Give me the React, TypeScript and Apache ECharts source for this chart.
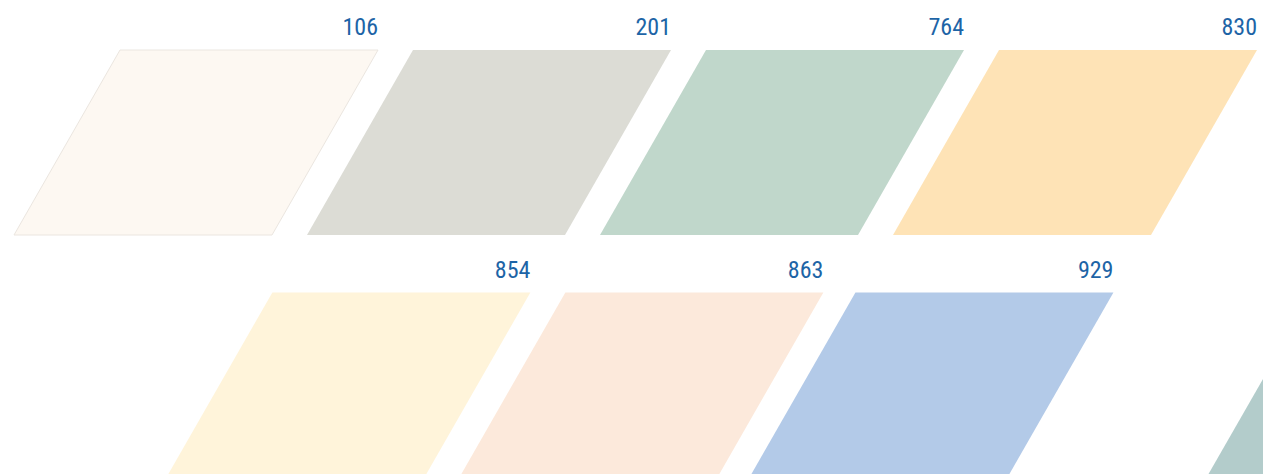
import React, { useEffect, useRef } from "react";
import * as echarts from "echarts";

// Swatch codes (labels) and their colours
const codes = ["106", "201", "764", "830", "854", "863", "929", ""];
const colors = ["#fdf8f2", "#dcdcd5", "#c0d7cb", "#fee3b6", "#fff4da", "#fce9db", "#b3cae8", "#b3cccb"];
// Layout slots: column (in swatch pitches) and row
const cols = [0, 1, 2, 3, 0.52, 1.52, 2.51, 4.07];
const rows = [0, 0, 0, 0, 1, 1, 1, 1];

export default function App() {
  const ref = useRef<HTMLDivElement>(null);
  useEffect(() => {
    if (!ref.current) return;
    const chart = echarts.init(ref.current, null, { renderer: "svg" });
    const W = 258;
    const H = 185;
    const SKEW = 106;
    const PITCH = 293;
    const X0 = 120;
    const rowTop = [50, 292.5];
    const data = codes.map((c, i) => [X0 + PITCH * cols[i], rowTop[rows[i]], i]);
    chart.setOption({
      animation: false,
      grid: { left: 0, right: 0, top: 0, bottom: 0, containLabel: false },
      xAxis: { type: "value", min: 0, max: 1263, show: false },
      yAxis: { type: "value", min: 0, max: 474, inverse: true, show: false },
      series: [
        {
          type: "custom",
          clip: false,
          data,
          renderItem: (params: any, api: any) => {
            const i = api.value(2);
            const [px, py] = api.coord([api.value(0), api.value(1)]);
            const [w, h] = api.size([W, H]);
            const sk = api.size([SKEW, 0])[0];
            const children: any[] = [
              {
                type: "polygon",
                shape: {
                  points: [
                    [px, py],
                    [px + w, py],
                    [px + w - sk, py + h],
                    [px - sk, py + h],
                  ],
                },
                style: {
                  fill: colors[i],
                  stroke: i === 0 ? "#ebe6e0" : null,
                  lineWidth: 1,
                },
              },
            ];
            if (codes[i]) {
              children.push({
                type: "text",
                style: {
                  text: codes[i],
                  x: px + w,
                  y: py - 11,
                  align: "right",
                  verticalAlign: "bottom",
                  fill: "#1d64a6",
                  fontSize: 24,
                  fontFamily: "'Liberation Sans Narrow', 'Roboto Condensed', Roboto, sans-serif",
                },
              });
            }
            return { type: "group", children };
          },
        },
      ],
    });
    return () => chart.dispose();
  }, []);
  return (
    <div
      ref={ref}
      style={{ position: "fixed", left: 0, top: 0, width: 1263, height: 474, background: "#fff" }}
    />
  );
}
